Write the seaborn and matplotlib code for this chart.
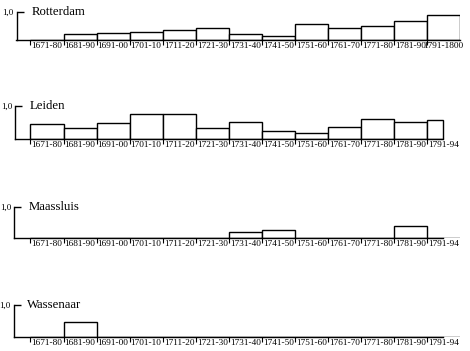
import matplotlib
matplotlib.use("Agg")
import matplotlib.pyplot as plt
import seaborn as sns
import pandas as pd

# --- Data (share per decade) ---
periods = ['1671-80', '1681-90', '1691-00', '1701-10', '1711-20', '1721-30',
           '1731-40', '1741-50', '1751-60', '1761-70', '1771-80', '1781-90']
last_rotterdam = '1791-1800'
last_other = '1791-94'

rotterdam = [0.0, 0.22, 0.25, 0.30, 0.36, 0.43, 0.21, 0.15, 0.57, 0.44, 0.49, 0.68, 0.89]
leiden = [0.46, 0.33, 0.47, 0.74, 0.74, 0.33, 0.50, 0.24, 0.18, 0.34, 0.60, 0.51, 0.57]
maassluis = [0.0, 0.0, 0.0, 0.0, 0.0, 0.0, 0.18, 0.25, 0.0, 0.0, 0.0, 0.37, 0.0]
wassenaar = [0.0, 0.45, 0.0, 0.0, 0.0, 0.0, 0.0, 0.0, 0.0, 0.0, 0.0, 0.0, 0.0]

towns = ['Rotterdam', 'Leiden', 'Maassluis', 'Wassenaar']
series = [rotterdam, leiden, maassluis, wassenaar]

# --- Layout in pixels: y-axis x, baseline y, 1,0 level y, title x ---
W, H = 470, 351
layout = {
    'Rotterdam': (16.5, 40.0, 12.0, 32),
    'Leiden': (15.0, 138.5, 106.0, 30),
    'Maassluis': (14.3, 237.5, 207.0, 29),
    'Wassenaar': (13.5, 336.5, 305.0, 27),
}
first_edge_px = 30.5
bin_px = 33.1
right_px = 460

sns.set_theme(style='white')
plt.rcParams['font.family'] = ['Liberation Serif', 'DejaVu Serif']

fig = plt.figure(figsize=(W / 100, H / 100), dpi=100)
fig.patch.set_facecolor('white')

for town, vals in zip(towns, series):
    left_px, base_px, top_px, title_px = layout[town]
    labels = periods + [last_rotterdam if town == 'Rotterdam' else last_other]
    df = pd.DataFrame({'period': labels, 'share': vals})

    ax = fig.add_axes([left_px / W, 1 - base_px / H,
                       (right_px - left_px) / W, (base_px - top_px) / H])
    sns.barplot(data=df, x='period', y='share', order=labels, ax=ax,
                width=1, color='white', saturation=1,
                edgecolor='black', linewidth=1.0)
    if town == 'Leiden':
        # 1791-94 is a short period, printed as a half-width bar
        ax.patches[-1].set_width(0.5)

    x_left = -0.5 - (first_edge_px - left_px) / bin_px
    ax.set_xlim(x_left, 12.5)
    ax.set_ylim(0, 1.0)
    ax.set_facecolor('none')

    for s in ['top', 'right']:
        ax.spines[s].set_visible(False)
    for s in ['left', 'bottom']:
        ax.spines[s].set_color('black')
        ax.spines[s].set_linewidth(1.0)
    ax.spines['bottom'].set_bounds(x_left, 12.5 if town == 'Rotterdam' else 12.0)

    # bin edge ticks below the axis, labels centred in each bin
    ax.set_xticks([i - 0.5 for i in range(13)], [''] * 13)
    ax.set_xticks(range(13), labels, minor=True)
    ax.tick_params(axis='x', which='major', direction='out', length=3.5,
                   width=0.8, color='black', bottom=True)
    ax.tick_params(axis='x', which='minor', length=0, pad=1.5,
                   labelsize=6.7, labelcolor='black', bottom=True)
    ax.set_yticks([1.0], ['1,0'])
    ax.tick_params(axis='y', direction='in', length=5, width=1.0,
                   color='black', pad=2, labelsize=6.5, labelcolor='black',
                   left=True)
    ax.set_xlabel('')
    ax.set_ylabel('')

    fig.text(title_px / W, 1 - top_px / H, town, fontsize=9.2,
             ha='left', va='center', color='black')

fig.savefig('out.png', dpi=100, facecolor='white')
